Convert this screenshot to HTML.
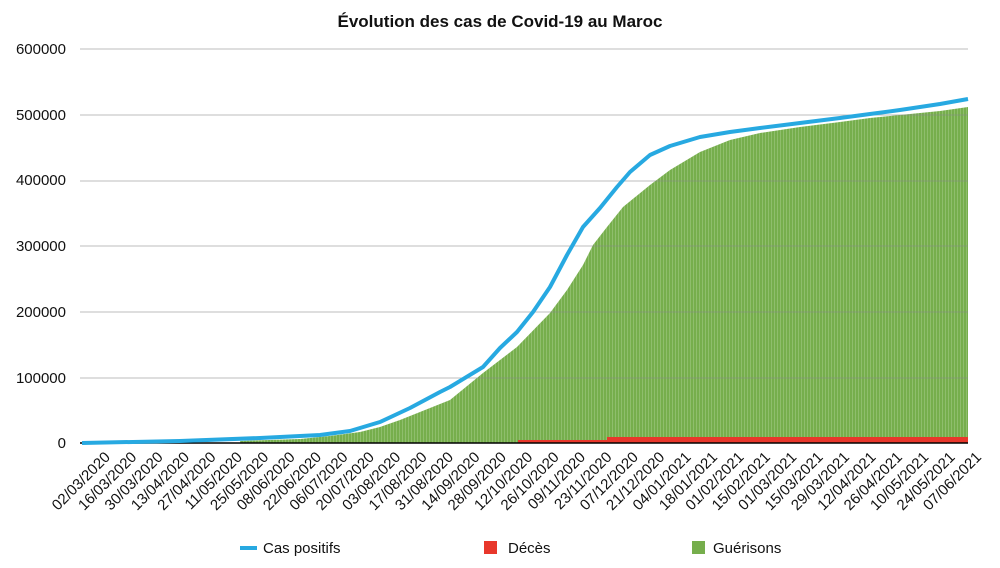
<!DOCTYPE html>
<html><head><meta charset="utf-8"><style>body{margin:0;background:#fff}svg{display:block;font-family:"Liberation Sans",sans-serif}</style></head><body>
<svg width="1000" height="568" viewBox="0 0 1000 568">
<defs><pattern id="st" width="3" height="10" patternUnits="userSpaceOnUse"><rect width="3" height="10" fill="#76ae4c"/><rect width="0.7" height="10" fill="#a9cf8d" opacity="0.7"/></pattern></defs>
<text x="500" y="27" text-anchor="middle" font-size="17" font-weight="bold" fill="#111">Évolution des cas de Covid-19 au Maroc</text>
<g font-size="15" fill="#111" text-anchor="end">
<text x="66" y="54">600000</text><text x="66" y="120">500000</text><text x="66" y="185">400000</text><text x="66" y="251">300000</text><text x="66" y="317">200000</text><text x="66" y="383">100000</text><text x="66" y="448">0</text></g>
<polygon fill="url(#st)" points="240,443 240,441 300,439 330,436 360,432 380,427 400,420 420,412 440,404 450,400 483,373 517,347 550,313 567,290 583,265 593,245 607,227 623,207 650,185 670,170 700,152 730,140 760,133 800,127 840,122 870,118 900,115 940,111 968,107 968,443"/>
<g stroke="#888" stroke-width="1" opacity="0.55">
<line x1="80" x2="968" y1="49" y2="49"/><line x1="80" x2="968" y1="115" y2="115"/><line x1="80" x2="968" y1="181" y2="181"/><line x1="80" x2="968" y1="246" y2="246"/><line x1="80" x2="968" y1="312" y2="312"/><line x1="80" x2="968" y1="378" y2="378"/></g>
<rect x="518" y="440" width="90" height="3" fill="#e8372b"/><rect x="607" y="437" width="361" height="6" fill="#e8372b"/>
<line x1="80" x2="968" y1="443" y2="443" stroke="#000" stroke-width="1.5"/>
<polyline fill="none" stroke="#27a9e1" stroke-width="4" stroke-linejoin="round" points="82,443 180,441 260,438 320,435 350,431 380,422 410,408 440,392 450,387 483,367 500,348 517,332 533,312 550,287 567,255 583,227 600,208 617,187 630,172 650,155 670,146 700,137 730,132 760,128 800,123 840,118 870,114 900,110 940,104 968,99"/>
<g font-size="15" fill="#111" text-anchor="end">
<text transform="translate(111,458) rotate(-45)">02/03/2020</text><text transform="translate(137.4,458) rotate(-45)">16/03/2020</text><text transform="translate(163.8,458) rotate(-45)">30/03/2020</text><text transform="translate(190.2,458) rotate(-45)">13/04/2020</text><text transform="translate(216.6,458) rotate(-45)">27/04/2020</text><text transform="translate(243,458) rotate(-45)">11/05/2020</text><text transform="translate(269.4,458) rotate(-45)">25/05/2020</text><text transform="translate(295.8,458) rotate(-45)">08/06/2020</text><text transform="translate(322.2,458) rotate(-45)">22/06/2020</text><text transform="translate(348.6,458) rotate(-45)">06/07/2020</text><text transform="translate(375,458) rotate(-45)">20/07/2020</text><text transform="translate(401.4,458) rotate(-45)">03/08/2020</text><text transform="translate(427.8,458) rotate(-45)">17/08/2020</text><text transform="translate(454.2,458) rotate(-45)">31/08/2020</text><text transform="translate(480.6,458) rotate(-45)">14/09/2020</text><text transform="translate(507,458) rotate(-45)">28/09/2020</text><text transform="translate(533.4,458) rotate(-45)">12/10/2020</text><text transform="translate(559.8,458) rotate(-45)">26/10/2020</text><text transform="translate(586.2,458) rotate(-45)">09/11/2020</text><text transform="translate(612.6,458) rotate(-45)">23/11/2020</text><text transform="translate(639,458) rotate(-45)">07/12/2020</text><text transform="translate(665.4,458) rotate(-45)">21/12/2020</text><text transform="translate(691.8,458) rotate(-45)">04/01/2021</text><text transform="translate(718.2,458) rotate(-45)">18/01/2021</text><text transform="translate(744.6,458) rotate(-45)">01/02/2021</text><text transform="translate(771,458) rotate(-45)">15/02/2021</text><text transform="translate(797.4,458) rotate(-45)">01/03/2021</text><text transform="translate(823.8,458) rotate(-45)">15/03/2021</text><text transform="translate(850.2,458) rotate(-45)">29/03/2021</text><text transform="translate(876.6,458) rotate(-45)">12/04/2021</text><text transform="translate(903,458) rotate(-45)">26/04/2021</text><text transform="translate(929.4,458) rotate(-45)">10/05/2021</text><text transform="translate(955.8,458) rotate(-45)">24/05/2021</text><text transform="translate(982.2,458) rotate(-45)">07/06/2021</text></g>
<line x1="240" x2="257" y1="548" y2="548" stroke="#27a9e1" stroke-width="4"/><text x="263" y="553" font-size="15" fill="#111">Cas positifs</text>
<rect x="484" y="541" width="13" height="13" fill="#e8372b"/><text x="508" y="553" font-size="15" fill="#111">Décès</text>
<rect x="692" y="541" width="13" height="13" fill="#76ae4c"/><text x="713" y="553" font-size="15" fill="#111">Guérisons</text>
</svg></body></html>
